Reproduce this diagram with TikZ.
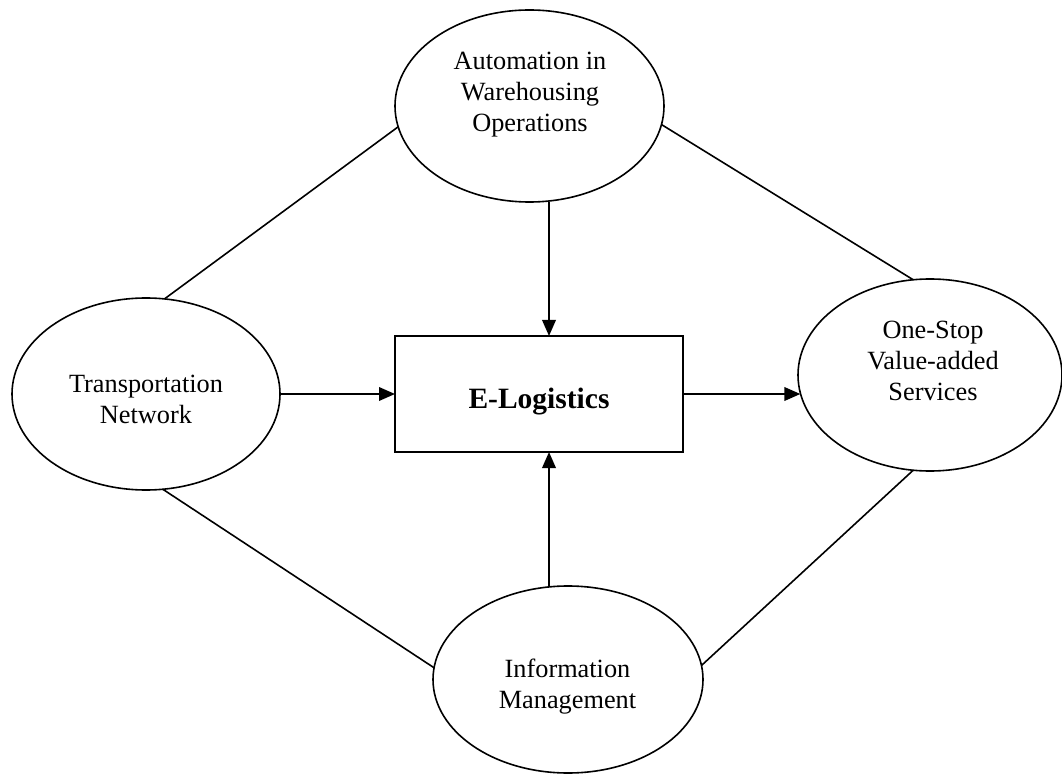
\documentclass[tikz,border=0pt]{standalone}
\usepackage{fontspec}
\setmainfont{Liberation Serif}
\usetikzlibrary{arrows.meta,shapes.geometric}
\begin{document}
\begin{tikzpicture}[x=1pt,y=-1pt,
  oval/.style={ellipse,draw,line width=1.6pt,inner sep=0pt,outer sep=0pt},
  lbl/.style={align=center,inner sep=0pt,font=\fontsize{26.3}{31}\selectfont},
  link/.style={line width=1.6pt},
  arr/.style={line width=2pt,-{Triangle[length=16pt,width=13.5pt]}},
  core/.style={draw,line width=1.6pt,inner sep=0pt,outer sep=0pt,minimum width=288pt,minimum height=116pt}]
\useasboundingbox (0,0) rectangle (1062,775);
\node[oval,minimum width=269pt,minimum height=192pt] (top) at (529.5,106) {};
\node[oval,minimum width=268pt,minimum height=192pt] (left) at (146,394) {};
\node[oval,minimum width=264pt,minimum height=192pt] (right) at (930,375) {};
\node[oval,minimum width=270pt,minimum height=187pt] (bot) at (568,679.5) {};
\node[core] (box) at (539,394) {};
\node[lbl] (topT) at (530,94.5) {Automation in\\Warehousing\\Operations};
\node[lbl] (leftT) at (146,399) {Transportation\\Network};
\node[lbl] (rightT) at (933,361) {One-Stop\\Value-added\\Services};
\node[lbl] (botT) at (567.5,686.5) {Information\\Management};
\node[inner sep=0pt,anchor=base,font=\fontsize{29.5}{34}\selectfont\bfseries] (boxT) at (539,408.5) {E-Logistics};
\draw[link] (top.189) -- (left.79);
\draw[link] (top.352) -- (right.100);
\draw[link] (left.280.5) -- (bot.175);
\draw[link] (bot.6) -- (right.260);
\draw[arr] ([xshift=19.5pt]top.south) -- ([xshift=10pt]box.north);
\draw[arr] ([xshift=-19pt]bot.north) -- ([xshift=10pt]box.south);
\draw[arr] (left.east) -- (box.west);
\draw[arr] (box.east) -- (box.east -| right.188.4);
\end{tikzpicture}
\end{document}
